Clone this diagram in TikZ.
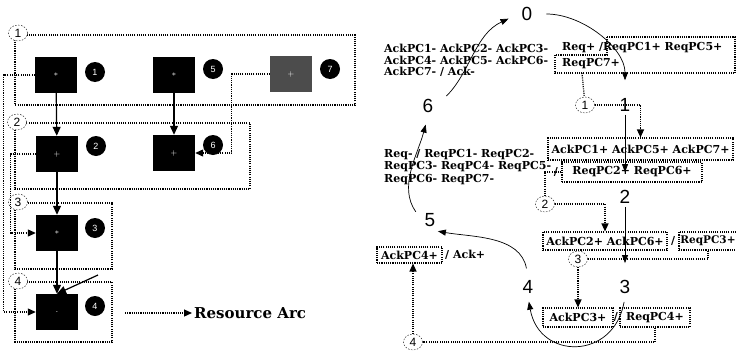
\documentclass[tikz,border=0pt]{standalone}
\usepackage{fontspec}
\setmainfont{DejaVu Serif}
\newfontfamily\numfont{Liberation Sans}
\usetikzlibrary{arrows.meta,shapes.geometric,calc}
\tikzset{
  blk/.style  ={rectangle, fill=black, minimum width=42pt, minimum height=36pt,
                inner sep=0pt, text=white, font=\numfont\footnotesize},
  badge/.style={circle, fill=black, minimum size=20pt, inner sep=0pt,
                text=white, font=\numfont\small},
  grp/.style  ={draw, line width=1.1pt, dash pattern=on 1.1pt off 1.1pt},
  tagc/.style ={ellipse, draw, dash pattern=on 1.5pt off 1.5pt, line width=0.4pt,
                fill=white, minimum width=19pt, minimum height=16pt, inner sep=0pt,
                font=\numfont\fontsize{12}{12}\selectfont},
  st/.style   ={inner sep=3pt, font=\numfont\fontsize{19}{19}\selectfont},
  cond/.style ={inner sep=0pt, align=left, font=\bfseries\fontsize{11}{11.5}\selectfont},
  cbox/.style ={cond, grp, align=center},
  flow/.style ={line width=1.2pt, -{Triangle[length=9pt,width=8pt]}},
  trans/.style={line width=0.7pt, -{Triangle[length=8pt,width=6pt]}},
  % resource arcs: dotted, with or without a head
  resl/.style ={line width=1.2pt, dash pattern=on 1.1pt off 1.1pt},
  res/.style  ={resl, -{Triangle[length=8pt,width=7pt]}},
}
\def\blocklist{b1/56/75/$\ast$/black, b5/174/75/$\ast$/black, b7/291/74/$+$/black!70,
  b2/57/154/$+$/black, b6/174/153/$+$/black, b3/57/233/$\ast$/black, b4/57/312/./black}
\def\badgelist{n1/95/72/1, n5/213/69/5, n7/330/69/7, n2/96/146/2, n6/213/145/6,
  n3/95/228/3, n4/95/306/4}
\def\grptags{k1/18/33/1, k2/17/122/2, k3/18/202/3, k4/18/281/4}
\def\statelist{s0/527/14/0, s1/625/105/1, s2/625/197/2, s3/625/287/3,
  s4/528/287/4, s5/430/220/5, s6/428/106/6}

\begin{document}
\begin{tikzpicture}[x=1pt,y=1pt]
\fill[white] (0,0) rectangle (736,-351);
\useasboundingbox (0,0) rectangle (736,-351);
% left: processes in their resource groups
\draw[grp] (15,-35) rectangle (355,-105);
\draw[grp] (15,-123) rectangle (250,-189);
\draw[grp] (15,-203) rectangle (112,-269);
\draw[grp] (15,-282) rectangle (112,-342);
\foreach \n/\x/\y/\g/\c in \blocklist {\node[blk, fill=\c] (\n) at (\x,-\y) {\g};}
\foreach \n/\x/\y/\t in \badgelist {\node[badge] (\n) at (\x,-\y) {\t};}
\foreach \n/\x/\y/\t in \grptags {\node[tagc] (\n) at (\x,-\y) {\t};}
\foreach \a/\b in {b1/b2, b5/b6, b2/b3, b3/b4} {\draw[flow] (\a) -- (\b);}
\coordinate (q4) at (98,-275);
\draw[flow] (q4) -- (b4.north);
\draw[res] (b1.west) -- ++(-31,0) |- (b4.west);
\draw[res] (b2.west) -- ++(-25,0) |- (b3.west);
\draw[res] (b7.west) -- ++(-38,0) |- (b6.east);
\coordinate (lg) at (125,-313);
\node[anchor=west, inner sep=2pt, font=\bfseries\fontsize{15}{15}\selectfont] (lgt) at (192,-313) {Resource Arc};
\draw[res] (lg) -- (lgt.west);

% right: state graph
\foreach \n/\x/\y/\t in \statelist {\node[st] (\n) at (\x,-\y) {\t};}
\draw[trans, shorten <=14pt, shorten >=11pt] (s6.east) to[out=45,in=205] (s0.west);
\draw[trans, shorten <=11pt, shorten >=15pt] (s0.east) to[out=0,in=90] (s1.north);
\draw[trans, shorten >=15pt] (s1) -- (s2);
\draw[trans, shorten >=14pt] (s2) -- (s3);
\draw[trans, shorten <=5pt, shorten >=5pt] (s3.south) to[out=-100,in=-80,looseness=1.7] (s4.south);
\draw[trans, shorten <=9pt, shorten >=8pt] (s4.north) to[out=100,in=-10] (s5.south);
\draw[trans, shorten <=10pt, shorten >=9pt] (s5.west) to[out=125,in=-105] (s6.south);

\node[cond, anchor=north west] (g60) at (384,-44) {AckPC1- AckPC2- AckPC3-\\AckPC4- AckPC5- AckPC6-\\AckPC7- / Ack-};
\node[cond, anchor=north west, font=\bfseries\fontsize{11}{16}\selectfont] (g01) at (562,-42) {Req+ /ReqPC1+ ReqPC5+\\ReqPC7+};
\draw[grp] (607,-37) -- (735,-37) -- (735,-73) -- (555,-73) -- (555,-55) -- (607,-55) -- cycle;
\node[cond, anchor=north west, font=\bfseries\fontsize{11}{12.5}\selectfont] (g50) at (384,-149) {Req- / ReqPC1- ReqPC2-\\ReqPC3- ReqPC4- ReqPC5-\\ReqPC6- ReqPC7-};

\node[cbox, minimum width=185pt, minimum height=22pt] (a12) at (640.5,-149) {AckPC1+ AckPC5+ AckPC7+};
\node[cond] (sl12) at (556,-172) {/};
\node[cbox, minimum width=140pt, minimum height=20pt] (r12) at (632,-172) {ReqPC2+ ReqPC6+};
\node[cbox, minimum width=124pt, minimum height=18pt] (a23) at (605,-241) {AckPC2+ AckPC6+};
\node[cond] (sl23) at (673,-241) {/};
\node[cbox, minimum width=58pt, minimum height=18pt, font=\bfseries\fontsize{10.5}{11}\selectfont] (r23) at (708,-241) {ReqPC3+};
\node[cbox, minimum width=70pt, minimum height=19pt] (a34) at (578,-317.5) {AckPC3+};
\node[cond] (sl34) at (616,-317) {/};
\node[cbox, minimum width=70pt, minimum height=19pt] (r34) at (655,-317.5) {ReqPC4+};
\node[cbox, minimum width=65pt, minimum height=16pt] (a45) at (409.5,-255) {AckPC4+};
\node[cond, anchor=west] (ack45) at (445,-255) {/ Ack+};

\node[tagc] (c1) at (585,-105) {1};
\node[tagc] (c2) at (545,-204) {2};
\node[tagc] (c3) at (578,-259) {3};
\node[tagc] (c4) at (413,-342) {4};
\coordinate (q01) at (582,-73);
\draw[resl] (q01) -- (c1);
\draw[res] (c1) -| (a12.north);
\draw[resl] (r12.west) -| (c2.north);
\draw[res] (c2) -| (a23.north);
\draw[resl] (r23.south) |- (c3);
\draw[res] (c3) -- (a34);
\draw[resl] (r34.south) |- (c4);
\draw[res] (c4) -- (c4 |- a45.south);
\end{tikzpicture}
\end{document}
